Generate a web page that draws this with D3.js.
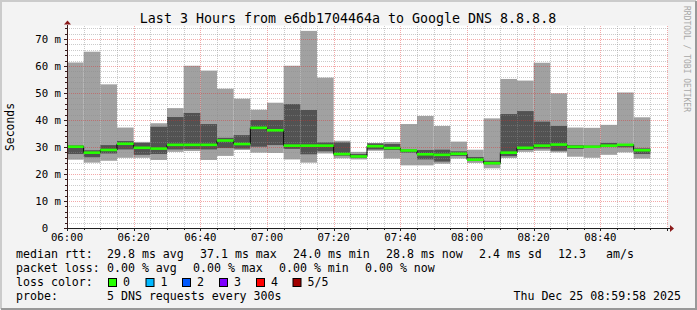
<!DOCTYPE html>
<html>
<head>
<meta charset="utf-8">
<script src="https://cdn.jsdelivr.net/npm/d3@7/dist/d3.min.js"></script>
<style>
body { margin: 0; background: #f3f3f3; }
text { font-family: "DejaVu Sans Mono", monospace; fill: #000; }
</style>
</head>
<body id="body">
<script>
//start of every 5 minute step
let steps = ["06:00","06:05","06:10","06:15","06:20","06:25","06:30","06:35","06:40","06:45",
    "06:50","06:55","07:00","07:05","07:10","07:15","07:20","07:25","07:30","07:35",
    "07:40","07:45","07:50","07:55","08:00","08:05","08:10","08:15","08:20","08:25",
    "08:30","08:35","08:40","08:45","08:50","08:55"].slice(0, 35);
//the 5 pings of each step, sorted (ms)
let pingMax = [61.3,65.3,53.2,37.2,31.9,38.8,44.4,60.1,58.3,51.6,47.9,43.8,46.4,60.1,73.0,55.7,32.3,28.2,
    31.5,31.8,38.5,41.5,37.8,32.0,29.0,40.6,55.2,54.6,61.2,49.9,37.2,37.1,38.2,50.2,41.0];
let pingHigh = [30.6,28.8,30.7,32.2,31.5,37.5,41.1,42.6,38.5,33.4,34.4,40.0,40.0,45.9,43.7,31.7,31.7,27.4,
    31.3,31.1,29.1,28.9,29.0,28.4,26.3,24.9,42.2,43.3,39.4,37.8,30.7,30.5,31.5,31.1,29.5];
let median = [30.1,27.9,28.9,31.2,29.7,29.4,30.8,30.8,30.8,32.4,31.1,37.1,36.2,30.5,30.5,30.5,27.4,26.5,
    30.3,29.6,28.7,27.3,27.1,27.5,25.3,24.0,27.9,29.7,30.5,30.9,30.1,30.1,30.5,30.8,28.8];
let pingLow = [27.4,26.2,27.6,29.1,27.1,27.4,29.1,29.2,29.1,29.6,29.4,30.1,30.7,29.3,27.3,28.4,26.8,26.0,
    29.1,28.9,27.9,25.4,24.6,26.7,24.8,23.6,26.6,28.9,29.4,28.6,29.3,29.7,30.1,29.9,27.4];
let pingMin = [25.3,24.2,24.9,26.0,26.0,25.2,28.2,28.5,25.2,26.7,28.9,27.9,27.8,25.4,24.2,27.6,25.8,25.4,
    28.6,25.7,23.2,23.2,23.8,25.7,24.1,22.1,25.9,28.2,28.6,28.0,26.4,26.0,27.1,28.0,25.7];
//axis labels
let xLabels = ["06:00","06:20","06:40","07:00","07:20","07:40","08:00","08:20","08:40"];
let yTicks = [0, 10, 20, 30, 40, 50, 60, 70];
//legend texts as printed by smokeping
let rttStats = ["29.8 ms avg", "37.1 ms max", "24.0 ms min", "28.8 ms now", "2.4 ms sd", "12.3", "am/s"];
let lossStats = ["0.00 % avg", "0.00 % max", "0.00 % min", "0.00 % now"];
let lossNames = ["0", "1", "2", "3", "4", "5/5"];
let lossColors = ["#26ff00", "#00b8ff", "#0059ff", "#7e00ff", "#ff0000", "#a10000"];

let width = 697;
let height = 310;
let plotLeft = 67, plotRight = 667, plotTop = 25.5, plotBottom = 228;
let gridColor = "rgba(140,140,140,0.45)";
let mgridColor = "rgba(225,40,40,0.4)";

let parser = d3.timeParse("%H:%M");
let times = steps.map(parser);

let xScale = d3.scaleTime()
    .domain([parser("06:00"), parser("09:00")])
    .range([plotLeft, plotRight]);
let yScale = d3.scaleLinear()
    .domain([0, 75])
    .range([plotBottom, plotTop]);

let svg = d3.select("body")
    .append("svg")
    .attr("width", width)
    .attr("height", height)
    .style("display", "block");

//background and shaded frame
svg.append("rect").attr("width", width).attr("height", height).style("fill", "#f3f3f3");
svg.append("path").attr("d", "M1,309V1H696").style("fill", "none").style("stroke", "#cbcbcb").style("stroke-width", 2);
svg.append("path").attr("d", "M1,309H696V1").style("fill", "none").style("stroke", "#999999").style("stroke-width", 2);

//canvas
svg.append("rect")
    .attr("x", plotLeft)
    .attr("y", plotTop)
    .attr("width", plotRight - plotLeft + 1)
    .attr("height", plotBottom - plotTop)
    .style("fill", "#ffffff");

//smoke: outer band min..max, inner band low..high
function stepEnd(t) {
    return d3.timeMinute.offset(t, 5);
}
svg.append("g").selectAll("rect")
    .data(times)
    .enter().append("rect")
    .attr("x", (d) => xScale(d))
    .attr("width", (d) => xScale(stepEnd(d)) - xScale(d))
    .attr("y", (d, i) => yScale(pingMax[i]))
    .attr("height", (d, i) => yScale(pingMin[i]) - yScale(pingMax[i]))
    .style("fill", "#a1a1a1");
svg.append("g").selectAll("rect")
    .data(times)
    .enter().append("rect")
    .attr("x", (d) => xScale(d))
    .attr("width", (d) => xScale(stepEnd(d)) - xScale(d))
    .attr("y", (d, i) => yScale(pingHigh[i]))
    .attr("height", (d, i) => yScale(pingLow[i]) - yScale(pingHigh[i]))
    .style("fill", "#525252");

//grid, drawn over the smoke like rrdtool does
let grid = svg.append("g").attr("shape-rendering", "crispEdges");
let minorX = d3.timeMinute.every(5).range(parser("06:00"), d3.timeMinute.offset(parser("09:00"), 1));
minorX.forEach(function (t) {
    let major = t.getMinutes() % 20 === 0;
    grid.append("line")
        .attr("x1", Math.round(xScale(t)) + 0.5)
        .attr("x2", Math.round(xScale(t)) + 0.5)
        .attr("y1", plotTop)
        .attr("y2", plotBottom)
        .style("stroke", major ? mgridColor : gridColor)
        .attr("stroke-dasharray", "1,1");
});
d3.range(0, 76, 2).forEach(function (v) {
    let major = v % 10 === 0;
    grid.append("line")
        .attr("x1", plotLeft)
        .attr("x2", plotRight + 1)
        .attr("y1", Math.round(yScale(v)) + 0.5)
        .attr("y2", Math.round(yScale(v)) + 0.5)
        .style("stroke", major ? mgridColor : gridColor)
        .attr("stroke-dasharray", "1,1");
});

//median: thin black step line with the loss colour on top
let stepData = times.map((t, i) => [t, median[i]]);
stepData.push([stepEnd(times[times.length - 1]), median[median.length - 1]]);
let medianLine = d3.line()
    .x((d) => xScale(d[0]))
    .y((d) => yScale(d[1]))
    .curve(d3.curveStepAfter);
svg.append("path")
    .datum(stepData)
    .attr("d", medianLine)
    .style("fill", "none")
    .style("stroke", "#000")
    .style("stroke-width", 1);
svg.append("g").selectAll("rect")
    .data(times)
    .enter().append("rect")
    .attr("x", (d) => xScale(d))
    .attr("width", (d) => xScale(stepEnd(d)) - xScale(d))
    .attr("y", (d, i) => yScale(median[i]) - 1.3)
    .attr("height", 2.6)
    .style("fill", lossColors[0]);

//axes
let axisColor = "#3a1c1c";
let axes = svg.append("g").attr("shape-rendering", "crispEdges");
axes.append("line")
    .attr("x1", plotLeft - 3).attr("x2", plotRight + 4)
    .attr("y1", plotBottom + 0.5).attr("y2", plotBottom + 0.5)
    .style("stroke", "#202020");
axes.append("line")
    .attr("x1", plotLeft + 0.5).attr("x2", plotLeft + 0.5)
    .attr("y1", plotBottom + 3).attr("y2", plotTop - 1)
    .style("stroke", axisColor);
minorX.forEach(function (t) {
    axes.append("line")
        .attr("x1", Math.round(xScale(t)) + 0.5).attr("x2", Math.round(xScale(t)) + 0.5)
        .attr("y1", plotBottom).attr("y2", plotBottom + (t.getMinutes() % 20 === 0 ? 3 : 2))
        .style("stroke", "#202020");
});
d3.range(0, 76, 2).forEach(function (v) {
    axes.append("line")
        .attr("x1", plotLeft - (v % 10 === 0 ? 3 : 2)).attr("x2", plotLeft)
        .attr("y1", Math.round(yScale(v)) + 0.5).attr("y2", Math.round(yScale(v)) + 0.5)
        .style("stroke", axisColor);
});
//arrows
svg.append("polygon")
    .attr("points", (plotRight + 3) + "," + (plotBottom - 3) + " " + (plotRight + 7) + "," + (plotBottom + 0.5) + " " + (plotRight + 3) + "," + (plotBottom + 4))
    .style("fill", "#8b1a1a");
svg.append("polygon")
    .attr("points", (plotLeft - 3) + "," + (plotTop - 1) + " " + (plotLeft + 0.5) + "," + (plotTop - 5) + " " + (plotLeft + 4) + "," + (plotTop - 1))
    .style("fill", "#8b1a1a");

//tick labels
svg.append("g").selectAll("text")
    .data(xLabels)
    .enter().append("text")
    .attr("x", (d) => xScale(parser(d)))
    .attr("y", 241)
    .attr("text-anchor", "middle")
    .style("font-size", "10.7px")
    .text((d) => d);
//"0" has no unit, rrdtool keeps the unit column blank
svg.append("g").selectAll("text")
    .data(yTicks)
    .enter().append("text")
    .attr("x", (d) => d === 0 ? 61 - 2 * 6.44 : 61)
    .attr("y", (d) => yScale(d))
    .attr("dy", ".35em")
    .attr("text-anchor", "end")
    .style("font-size", "10.7px")
    .text((d) => d === 0 ? "0" : d + " m");

//title and side labels
svg.append("text")
    .attr("x", 348)
    .attr("y", 23)
    .attr("text-anchor", "middle")
    .style("font-size", "13.3px")
    .text("Last 3 Hours from e6db1704464a to Google DNS 8.8.8.8");
svg.append("text")
    .attr("transform", "translate(14,127) rotate(-90)")
    .attr("text-anchor", "middle")
    .style("font-size", "11.4px")
    .text("Seconds");
svg.append("text")
    .attr("transform", "translate(684,59) rotate(90)")
    .attr("text-anchor", "middle")
    .style("font-size", "8px")
    .style("fill", "#a8a8a8")
    .text("RRDTOOL / TOBI OETIKER");

//legend
let legendFont = "11.6px";
function legendText(x, y, s, anchor) {
    svg.append("text")
        .attr("x", x)
        .attr("y", y)
        .attr("text-anchor", anchor || "start")
        .style("font-size", legendFont)
        .text(s);
}
let rttX = [107, 200, 293, 386, 479, 558, 606];
legendText(16, 258, "median rtt:");
rttStats.forEach((s, i) => legendText(rttX[i], 258, s));

let lossX = [107, 193, 279, 365];
legendText(16, 272, "packet loss:");
lossStats.forEach((s, i) => legendText(lossX[i], 272, s));

legendText(16, 286, "loss color:");
let boxX = [108, 145.5, 182, 219, 256, 292.5];
lossNames.forEach(function (name, i) {
    svg.append("rect")
        .attr("x", boxX[i] + 0.5)
        .attr("y", 278.5)
        .attr("width", 8)
        .attr("height", 8)
        .style("fill", lossColors[i])
        .style("stroke", "#000")
        .style("stroke-width", 1);
    legendText(boxX[i] + 15, 286, name);
});

legendText(16, 300, "probe:");
legendText(107, 300, "5 DNS requests every 300s");
legendText(681, 300, "Thu Dec 25 08:59:58 2025", "end");
</script>
</body>
</html>
